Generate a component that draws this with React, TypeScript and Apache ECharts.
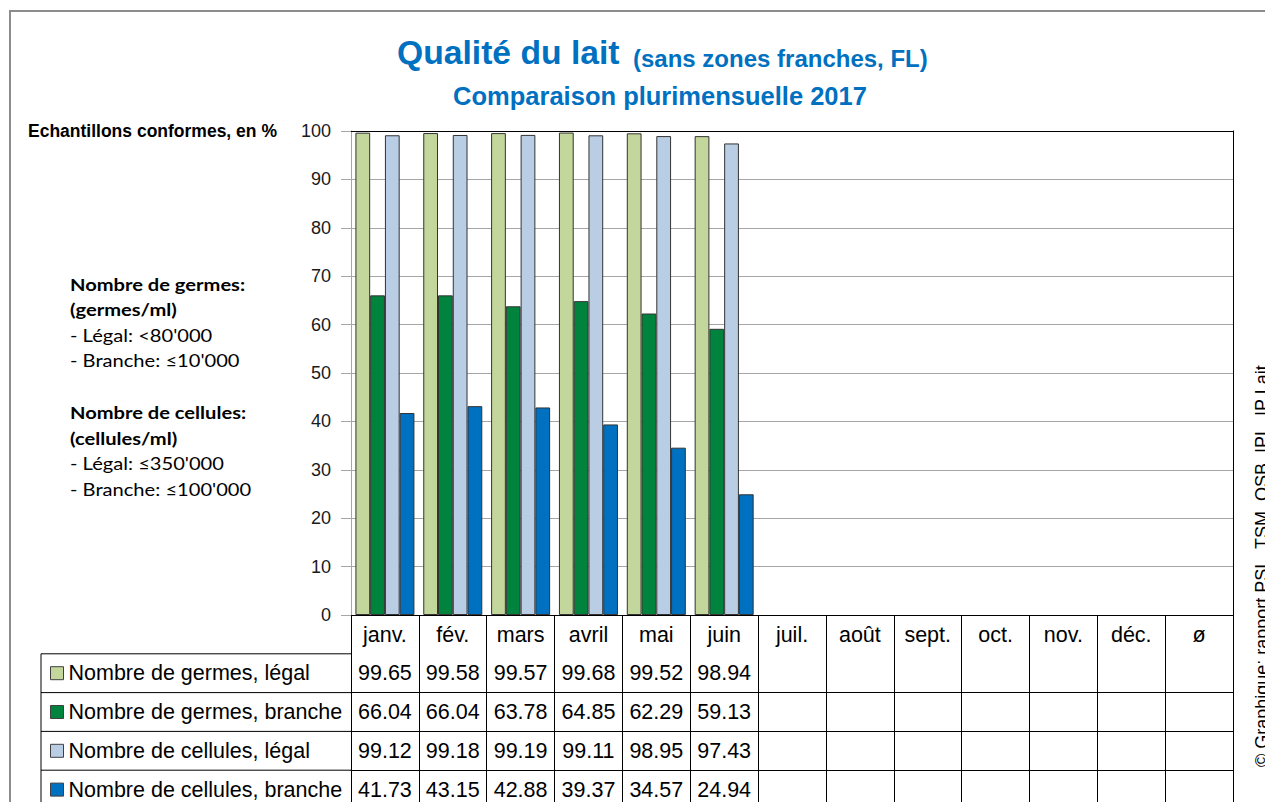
import React, { useEffect, useRef } from 'react';
import * as echarts from 'echarts';

const months = ['janv.', 'fév.', 'mars', 'avril', 'mai', 'juin', 'juil.', 'août', 'sept.', 'oct.', 'nov.', 'déc.', 'ø'];
const seriesNames = [
  'Nombre de germes, légal',
  'Nombre de germes, branche',
  'Nombre de cellules, légal',
  'Nombre de cellules, branche',
];
const germesLegal = [99.65, 99.58, 99.57, 99.68, 99.52, 98.94];
const germesBranche = [66.04, 66.04, 63.78, 64.85, 62.29, 59.13];
const cellulesLegal = [99.12, 99.18, 99.19, 99.11, 98.95, 97.43];
const cellulesBranche = [41.73, 43.15, 42.88, 39.37, 34.57, 24.94];
const seriesColors = ['#c3d69b', '#00843d', '#b9cde5', '#0070c0'];
const yMin = 0;
const yMax = 100;
const yStep = 10;

const titleMain = 'Qualité du lait';
const titleParen = '(sans zones franches, FL)';
const subtitle = 'Comparaison plurimensuelle 2017';
const yTitle = 'Echantillons conformes, en %';
const notes = [
  { t: 'Nombre de germes:', b: true },
  { t: '(germes/ml)', b: true },
  { t: "- Légal: <80'000", b: false },
  { t: "- Branche: ≤10'000", b: false },
  { t: 'Nombre de cellules:', b: true },
  { t: '(cellules/ml)', b: true },
  { t: "- Légal: ≤350'000", b: false },
  { t: "- Branche: ≤100'000", b: false },
];
const noteY = [284, 309, 335, 360, 412, 438, 463, 489];
const sourceText = '© Graphique: rapport PSL, TSM, OSB, IPL, IP Lait';

const W = 1265;
const H = 802;
const GL = 351;
const GR = 1233;
const GT = 131;
const GB = 615;
const ROW_H = 38.8;
const ARIAL = '"Liberation Sans", Arial, sans-serif';
const CAL = 'Lato, "Noto Sans", sans-serif';
const BLUE = '#0070c0';
const GRIDC = '#a6a6a6';
const TABLE_FS = 21.5;
const LEG_LH = 24;

export default function App() {
  const ref = useRef<HTMLDivElement>(null);
  useEffect(() => {
    document.body.style.margin = '0';
    const chart = echarts.init(ref.current as HTMLDivElement, null, { renderer: 'svg', width: W, height: H });
    const rows = [germesLegal, germesBranche, cellulesLegal, cellulesBranche];

    const xAxes: any[] = [
      {
        type: 'category',
        data: months,
        gridIndex: 0,
        position: 'bottom',
        boundaryGap: true,
        axisLine: { show: true, lineStyle: { color: '#000', width: 1 } },
        axisTick: { show: true, interval: 0, length: 200, lineStyle: { color: '#000', width: 1 } },
        axisLabel: { interval: 0, margin: 8.5, fontFamily: ARIAL, fontSize: TABLE_FS, color: '#000' },
        splitLine: { show: false },
      },
    ];
    rows.forEach((row, k) => {
      xAxes.push({
        type: 'category',
        data: months,
        gridIndex: 0,
        position: 'bottom',
        offset: ROW_H * (k + 1),
        axisLine: { show: true, lineStyle: { color: '#000', width: 1 } },
        axisTick: { show: false },
        axisLabel: {
          interval: 0,
          margin: 8.5,
          fontFamily: ARIAL,
          fontSize: TABLE_FS,
          color: '#000',
          formatter: (_v: string, i: number) => (row[i] == null ? '' : row[i].toFixed(2)),
        },
        splitLine: { show: false },
      });
    });
    xAxes.push({
      type: 'category',
      data: months,
      gridIndex: 0,
      position: 'top',
      axisLine: { show: true, lineStyle: { color: '#000', width: 1 } },
      axisTick: { show: false },
      axisLabel: { show: false },
      splitLine: { show: false },
    });

    const graphic: any[] = [
      {
        type: 'rect',
        shape: { x: 10, y: 11, width: 1400, height: 1000 },
        style: { fill: 'none', stroke: '#8c8c8c', lineWidth: 2 },
        silent: true,
      },
      {
        type: 'text',
        x: 397,
        y: 52,
        scaleX: 0.99,
        style: { text: titleMain, fontFamily: ARIAL, fontWeight: 'bold', fontSize: 34, fill: BLUE, align: 'left', verticalAlign: 'middle' },
      },
      {
        type: 'text',
        x: 633,
        y: 58,
        style: { text: titleParen, fontFamily: ARIAL, fontWeight: 'bold', fontSize: 24, fill: BLUE, align: 'left', verticalAlign: 'middle' },
      },
      {
        type: 'text',
        x: 660,
        y: 96,
        style: { text: subtitle, fontFamily: ARIAL, fontWeight: 'bold', fontSize: 25.5, fill: BLUE, align: 'center', verticalAlign: 'middle' },
      },
      {
        type: 'text',
        x: 28,
        y: 131,
        style: { text: yTitle, fontFamily: ARIAL, fontWeight: 'bold', fontSize: 17.5, fill: '#000', align: 'left', verticalAlign: 'middle' },
      },
      {
        type: 'text',
        x: 1262,
        y: 767,
        rotation: Math.PI / 2,
        style: { text: sourceText, fontFamily: ARIAL, fontSize: 18, fill: '#000', align: 'left', verticalAlign: 'middle' },
      },
      {
        type: 'line',
        shape: { x1: 41, y1: GB + ROW_H, x2: 41, y2: H + 10 },
        style: { stroke: '#000', lineWidth: 1 },
      },
    ];
    notes.forEach((n, i) => {
      graphic.push({
        type: 'text',
        x: 70,
        y: noteY[i],
        scaleX: 1.15,
        style: {
          text: n.t,
          fontFamily: CAL,
          fontWeight: n.b ? 'bold' : 'normal',
          fontSize: 17.5,
          fill: '#000',
          align: 'left',
          verticalAlign: 'middle',
        },
      });
    });
    for (let k = 1; k <= 4; k++) {
      graphic.push({
        type: 'line',
        shape: { x1: 41, y1: GB + ROW_H * k, x2: GL, y2: GB + ROW_H * k },
        style: { stroke: '#000', lineWidth: 1 },
      });
    }

    chart.setOption({
      animation: false,
      backgroundColor: '#fff',
      grid: { left: GL, right: W - GR, top: GT, bottom: H - GB, containLabel: false },
      legend: {
        orient: 'vertical',
        left: 50,
        top: GB + ROW_H + (ROW_H - LEG_LH) / 2,
        width: 300,
        height: 220,
        padding: 0,
        itemWidth: 13,
        itemHeight: 13,
        itemGap: ROW_H - LEG_LH,
        selectedMode: false,
        icon: 'rect',
        itemStyle: { borderColor: '#404040', borderWidth: 1 },
        textStyle: { fontFamily: ARIAL, fontSize: TABLE_FS, lineHeight: LEG_LH, color: '#000' },
        data: seriesNames,
      },
      xAxis: xAxes,
      yAxis: [
        {
          type: 'value',
          min: yMin,
          max: yMax,
          interval: yStep,
          axisLine: { show: true, lineStyle: { color: GRIDC, width: 1 } },
          axisTick: { show: true, length: 10, lineStyle: { color: GRIDC } },
          axisLabel: { margin: 20, fontFamily: ARIAL, fontSize: 18, color: '#1a1a1a' },
          splitLine: { show: true, lineStyle: { color: GRIDC, width: 1 } },
        },
        {
          type: 'value',
          min: yMin,
          max: yMax,
          interval: yStep,
          position: 'right',
          axisLine: { show: true, lineStyle: { color: '#000', width: 1 } },
          axisTick: { show: false },
          axisLabel: { show: false },
          splitLine: { show: false },
        },
      ],
      series: rows.map((row, i) => ({
        name: seriesNames[i],
        type: 'bar',
        data: row,
        barCategoryGap: '13%',
        barGap: '0%',
        itemStyle: { color: seriesColors[i], borderColor: '#333', borderWidth: 1 },
      })),
      graphic,
    });
    return () => chart.dispose();
  }, []);
  return <div ref={ref} style={{ width: W, height: H }} />;
}
